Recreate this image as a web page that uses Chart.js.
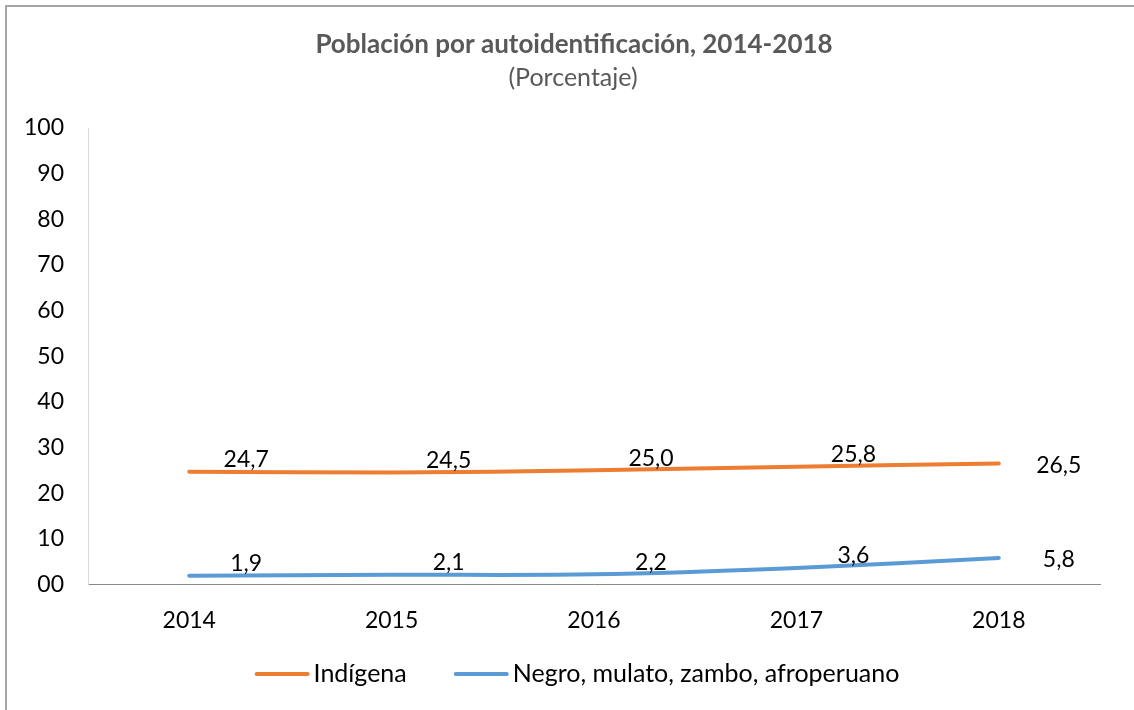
<!DOCTYPE html>
<html>
<head>
<meta charset="utf-8">
<script src="https://cdn.jsdelivr.net/npm/chart.js@4"></script>
<style>
  html, body { margin: 0; padding: 0; background: #fff; }
  .wrap { position: relative; width: 1134px; height: 710px; }
  .frame { position: absolute; left: 5px; top: 5px; right: 0; bottom: 0; border-top: 2px solid #a6a6a6; border-left: 2px solid #a6a6a6; pointer-events: none; }
  canvas { position: absolute; left: 0; top: 0; }
</style>
</head>
<body>
<div class="wrap">
  <canvas id="grafico" width="1134" height="710"></canvas>
  <div class="frame"></div>
</div>
<script>
const anos = ['2014', '2015', '2016', '2017', '2018'];
const indigena = [24.7, 24.5, 25.0, 25.8, 26.5];
const afro = [1.9, 2.1, 2.2, 3.6, 5.8];
const yTickLabels = ['00', '10', '20', '30', '40', '50', '60', '70', '80', '90', '100'];

const TITULO = 'Población por autoidentificación, 2014-2018';
const SUBTITULO = '(Porcentaje)';

const FONTE = 'Lato, "Open Sans", sans-serif';
const fmt = v => v.toFixed(1).replace('.', ',');

// título centrado sobre todo el gráfico (como en Excel)
const titulo = {
  id: 'titulo',
  afterDraw(chart) {
    const ctx = chart.ctx;
    ctx.save();
    ctx.fillStyle = '#595959';
    ctx.textAlign = 'center';
    ctx.textBaseline = 'middle';
    ctx.font = `bold 26px ${FONTE}`;
    ctx.fillText(TITULO, 574, 45);
    ctx.font = `25px ${FONTE}`;
    ctx.fillText(SUBTITULO, 573, 78);
    ctx.restore();
  }
};

// etiquetas de datos, a la derecha del punto
const etiquetas = {
  id: 'etiquetas',
  afterDatasetsDraw(chart) {
    const ctx = chart.ctx;
    ctx.save();
    ctx.font = `23px ${FONTE}`;
    ctx.fillStyle = '#000';
    ctx.textAlign = 'center';
    ctx.textBaseline = 'middle';
    chart.data.datasets.forEach((ds, i) => {
      const meta = chart.getDatasetMeta(i);
      meta.data.forEach((pt, j) => {
        const ultimo = j === meta.data.length - 1;
        const dx = ultimo ? 60 : 57;
        const dy = ultimo ? 2 : -12;
        ctx.fillText(fmt(ds.data[j]), pt.x + dx, pt.y + dy);
      });
    });
    ctx.restore();
  }
};

// leyenda abajo, estilo Excel (línea pegada al texto)
const leyenda = {
  id: 'leyenda',
  afterDraw(chart) {
    const ctx = chart.ctx;
    const largo = 55, sep = 4, gap = 47, y = 674;
    ctx.save();
    ctx.font = `25px ${FONTE}`;
    const items = chart.data.datasets.map(ds => ({ ds, w: ctx.measureText(ds.label).width }));
    const total = items.reduce((s, it) => s + largo + sep + it.w, 0) + gap * (items.length - 1);
    let x = 577 - total / 2;
    items.forEach(it => {
      ctx.strokeStyle = it.ds.borderColor;
      ctx.lineWidth = 4;
      ctx.lineCap = 'round';
      ctx.beginPath();
      ctx.moveTo(x + 2, y);
      ctx.lineTo(x + largo - 2, y);
      ctx.stroke();
      ctx.fillStyle = '#000';
      ctx.textAlign = 'left';
      ctx.textBaseline = 'middle';
      ctx.fillText(it.ds.label, x + largo + sep, y);
      x += largo + sep + it.w + gap;
    });
    ctx.restore();
  }
};

new Chart(document.getElementById('grafico'), {
  type: 'line',
  data: {
    labels: anos,
    datasets: [
      { label: 'Indígena', data: indigena, borderColor: '#ED7D31', backgroundColor: '#ED7D31', borderWidth: 4, tension: 0.3, pointRadius: 0, borderCapStyle: 'round' },
      { label: 'Negro, mulato, zambo, afroperuano', data: afro, borderColor: '#5B9BD5', backgroundColor: '#5B9BD5', borderWidth: 4, tension: 0.3, pointRadius: 0, borderCapStyle: 'round' }
    ]
  },
  options: {
    responsive: false,
    animation: false,
    layout: { padding: { left: 0, right: 34, top: 128, bottom: 54 } },
    plugins: {
      legend: { display: false },
      tooltip: { enabled: false },
      title: { display: false }
    },
    scales: {
      x: {
        offset: true,
        grid: { display: false, drawTicks: false },
        border: { display: true, color: '#898989', width: 1 },
        ticks: { color: '#000', padding: 22, font: { family: FONTE, size: 23 } }
      },
      y: {
        min: 0,
        max: 100,
        grid: { display: false, drawTicks: false },
        border: { display: true, color: '#d9d9d9', width: 1 },
        ticks: {
          stepSize: 10,
          color: '#000',
          padding: 24,
          font: { family: FONTE, size: 23 },
          callback: (v, i) => yTickLabels[i]
        }
      }
    }
  },
  plugins: [titulo, etiquetas, leyenda]
});
</script>
</body>
</html>
